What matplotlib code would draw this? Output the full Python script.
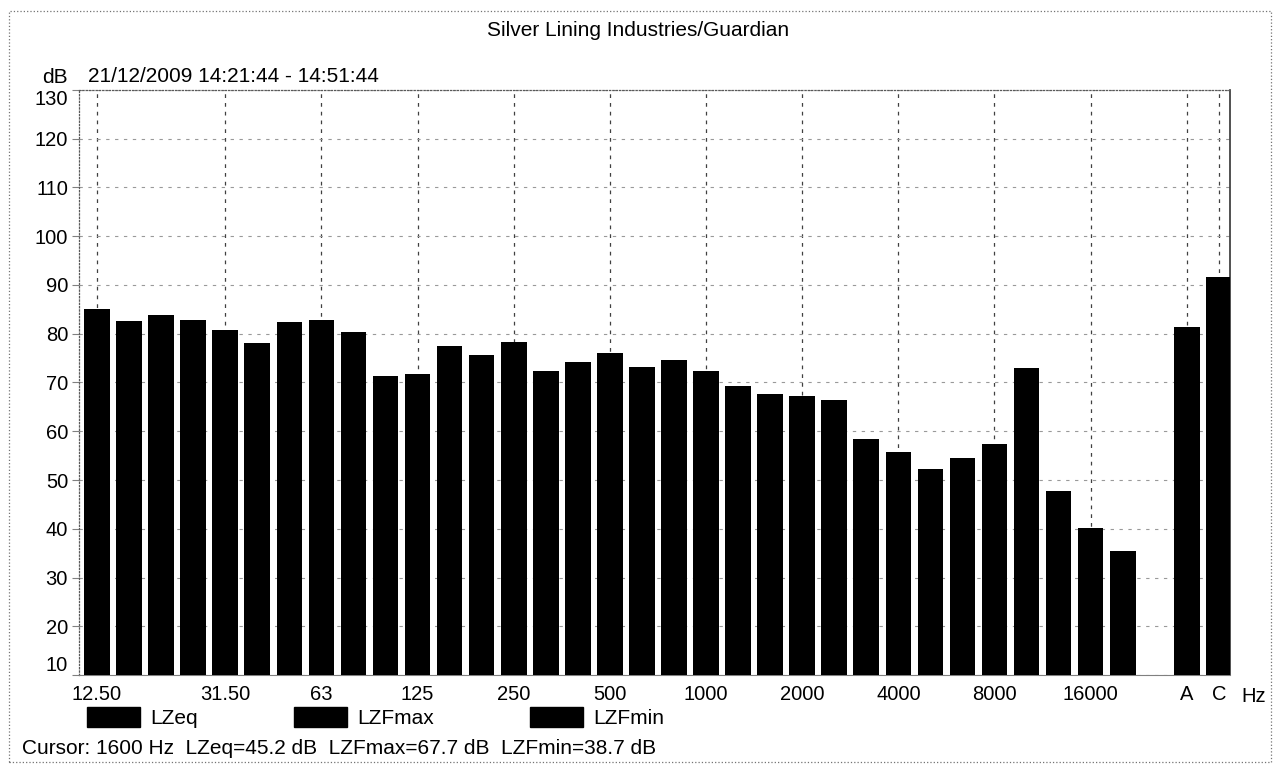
import numpy as np
import matplotlib.pyplot as plt
from matplotlib.patches import Patch, Rectangle

plt.rcParams['font.family'] = ['Liberation Sans', 'DejaVu Sans']

# 1/3 octave bands (Hz) and LZFmax levels (dB)
bands = [12.5, 16, 20, 25, 31.5, 40, 50, 63, 80, 100, 125, 160, 200, 250, 315,
         400, 500, 630, 800, 1000, 1250, 1600, 2000, 2500, 3150, 4000, 5000,
         6300, 8000, 10000, 12500, 16000, 20000]
lzfmax = [85.1, 82.7, 83.9, 82.8, 80.8, 78.0, 82.5, 82.8, 80.3, 71.3, 71.7,
          77.4, 75.6, 78.3, 72.4, 74.2, 76.0, 73.2, 74.7, 72.4, 69.2, 67.7,
          67.3, 66.5, 58.4, 55.8, 52.3, 54.6, 57.4, 72.9, 47.7, 40.1, 35.5]

# overall weighted levels
overall = ['A', 'C']
overall_max = [81.3, 91.6]

tick_labels = ['12.50', '31.50', '63', '125', '250', '500', '1000', '2000',
               '4000', '8000', '16000']
series = ['LZeq', 'LZFmax', 'LZFmin']

title = 'Silver Lining Industries/Guardian'
period = '21/12/2009 14:21:44 - 14:51:44'
cursor = 'Cursor: 1600 Hz  LZeq=45.2 dB  LZFmax=67.7 dB  LZFmin=38.7 dB'

fig = plt.figure(figsize=(12.76, 7.68), dpi=100)
ax = fig.add_axes([0.062, 0.121, 0.902, 0.762])

pos = np.arange(len(bands))
pos_overall = len(bands) + 1 + np.arange(len(overall))

ax.bar(pos, lzfmax, width=0.8, color='black', zorder=3)
ax.bar(pos_overall, overall_max, width=0.8, color='black', zorder=3)

ax.set_ylim(10, 130)
ax.set_xlim(-0.56, 35.35)
ax.set_yticks(np.arange(10, 131, 10))

tick_pos = [bands.index(float(t)) for t in tick_labels]
ax.set_xticks(list(tick_pos) + list(pos_overall))
ax.set_xticklabels(tick_labels + overall)

ax.tick_params(axis='x', length=0, pad=7, labelsize=14.5)
ax.tick_params(axis='y', length=5, color='0.5', width=0.8, pad=3, labelsize=14.5)

labels = ax.get_yticklabels()
labels[0].set_va('bottom')
labels[-1].set_va('top')

ax.xaxis.grid(True, linestyle=(0, (3, 4)), color='0.25', linewidth=0.9, zorder=1)
ax.yaxis.grid(True, linestyle=(0, (3, 5)), color='0.6', linewidth=0.8, zorder=1)

for side in ['left', 'top']:
    ax.spines[side].set_linestyle(':')
    ax.spines[side].set_color('0.35')
    ax.spines[side].set_linewidth(0.9)
ax.spines['right'].set_color('0.2')
ax.spines['right'].set_linewidth(1.2)
ax.spines['bottom'].set_color('0.5')
ax.spines['bottom'].set_linewidth(0.8)

ax.text(36.1, -0.02, 'Hz', transform=ax.get_xaxis_transform(),
        ha='center', va='top', fontsize=14.5)

fig.text(0.5, 0.96, title, ha='center', va='center', fontsize=15)
fig.text(0.033, 0.899, 'dB', ha='left', va='center', fontsize=15)
fig.text(0.069, 0.9, period, ha='left', va='center', fontsize=15)

handles = [Patch(facecolor='black', edgecolor='black') for s in series]
fig.legend(handles, series, loc='upper left', bbox_to_anchor=(0.068, 0.08),
           ncol=3, frameon=False, fontsize=15, handlelength=2.55,
           handleheight=1.1, handletextpad=0.5, columnspacing=4.6,
           borderpad=0, borderaxespad=0)

fig.text(0.017, 0.026, cursor, ha='left', va='center', fontsize=15)

fig.patches.append(Rectangle((0.007, 0.008), 0.989, 0.978, transform=fig.transFigure,
                             fill=False, linestyle=':', edgecolor='0.45',
                             linewidth=0.9))

fig.savefig('out.png', dpi=100)
